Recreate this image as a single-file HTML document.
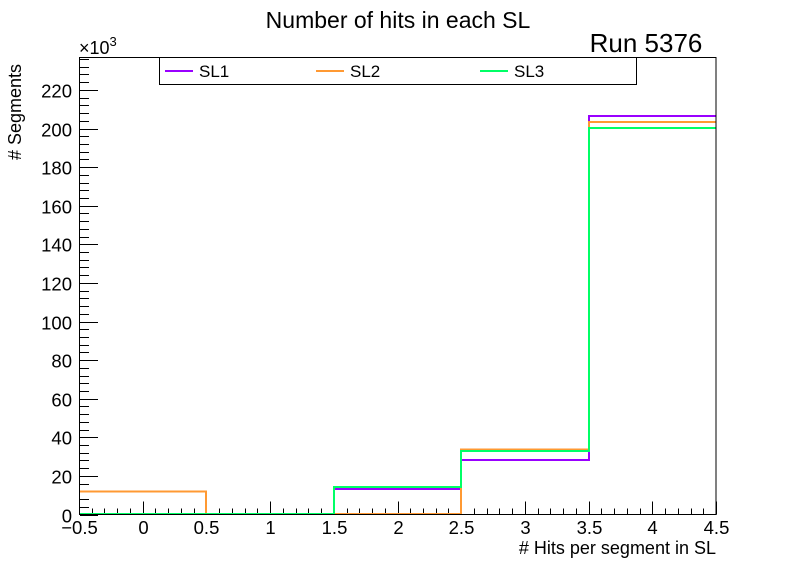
<!DOCTYPE html>
<html><head><meta charset="utf-8"><style>
html,body{margin:0;padding:0;background:#fff;}
svg{display:block;font-family:"Liberation Sans",Arial,sans-serif;}
</style></head><body>
<svg id="s" width="796" height="572" viewBox="0 0 796 572" xmlns="http://www.w3.org/2000/svg">
<rect width="796" height="572" fill="#fff"/>
<text x="398" y="28" font-size="23" text-anchor="middle">Number of hits in each SL</text>
<text x="646" y="52" font-size="26" text-anchor="middle">Run 5376</text>
<g id="ticks" stroke="#000" stroke-width="1"></g>
<g id="labels" font-size="18.5"></g>
<text x="79" y="54" font-size="18">×10<tspan dy="-8" font-size="13">3</tspan></text>
<text transform="translate(21,112) rotate(-90)" font-size="18" text-anchor="middle"># Segments</text>
<text x="716" y="554" font-size="18" text-anchor="end"># Hits per segment in SL</text>
<g fill="none" stroke-width="2">
<polyline stroke="#9900ff" points="79,514 334,514 334,489 461,489 461,460 589,460 589,116 716,116"/>
<polyline stroke="#ff9933" points="79,491.5 206,491.5 206,514 461,514 461,449.5 589,449.5 589,122 716,122"/>
<polyline stroke="#00ff66" points="79,514 334,514 334,487 461,487 461,451 589,451 589,128 716,128"/>
</g>
<rect x="79.5" y="57.5" width="636.5" height="457" fill="none" stroke="#000" stroke-width="1"/>
<rect x="159.5" y="57.5" width="477" height="27" fill="#fff" stroke="#000" stroke-width="1"/>
<line x1="165" y1="71" x2="193" y2="71" stroke="#9900ff" stroke-width="2"/>
<text x="199" y="77" font-size="17">SL1</text>
<line x1="316" y1="71" x2="344" y2="71" stroke="#ff9933" stroke-width="2"/>
<text x="350" y="77" font-size="17">SL2</text>
<line x1="480" y1="71" x2="508" y2="71" stroke="#00ff66" stroke-width="2"/>
<text x="514" y="77" font-size="17">SL3</text>
</svg>
<script>
var NS="http://www.w3.org/2000/svg",t=document.getElementById("ticks"),l=document.getElementById("labels");
function ln(a,b,c,d){var e=document.createElementNS(NS,"line");e.setAttribute("x1",a);e.setAttribute("y1",b);e.setAttribute("x2",c);e.setAttribute("y2",d);t.appendChild(e);}
function tx(x,y,s,anc){var e=document.createElementNS(NS,"text");e.setAttribute("x",x);e.setAttribute("y",y);e.setAttribute("text-anchor",anc);e.textContent=s;l.appendChild(e);}
var x0=79,px=127.4,y0=514.5,py=1.93;
for(var i=0;i<=50;i++){var x=x0+i*px/10;x=Math.round(x)+0.5;var maj=i%5==0;ln(x,y0,x,y0-(maj?13:6));
 if(maj){var v=-0.5+i/10;var s=(Math.round(v*10)/10).toString().replace("-","\u2212");tx(x,534,s,"middle");}}
for(var v=0;v<=236;v+=4){var y=Math.round(y0-v*py)+0.5;if(y<57)break;var maj=v%20==0;ln(80,y,80+(maj?18:9),y);
 if(maj)tx(72,y+7,String(v),"end");}
</script>
</body></html>
